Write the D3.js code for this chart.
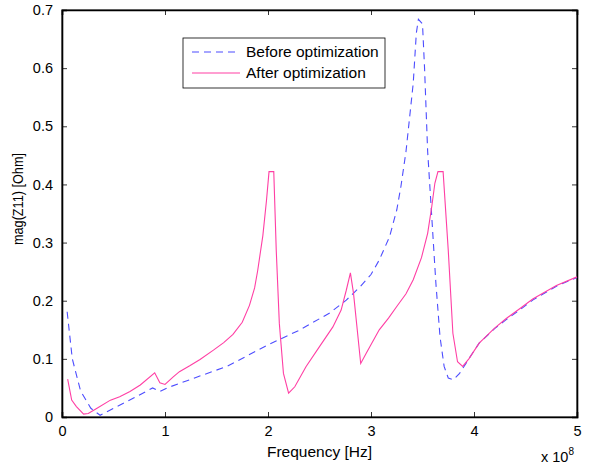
<!DOCTYPE html>
<html>
<head>
<meta charset="utf-8">
<script src="https://cdn.jsdelivr.net/npm/d3@7"></script>
<style>
  body { margin: 0; background: #fff; }
  text { font-family: "Liberation Sans", Arial, sans-serif; fill: #000; }
</style>
</head>
<body>
<script>
// frequency in units of 1e8 Hz, magnitude in Ohm
const beforeFreq = [0.05, 0.1, 0.18, 0.28, 0.37, 0.5, 0.7, 0.88, 0.95, 1.02, 1.3, 1.6, 2.0, 2.3, 2.6, 2.76,
  2.9, 3.0, 3.08, 3.18, 3.25, 3.29, 3.34, 3.41, 3.44, 3.46, 3.5, 3.52, 3.55, 3.59, 3.63, 3.67, 3.71, 3.75,
  3.8, 3.86, 3.95, 4.05, 4.2, 4.31, 4.45, 4.57, 4.8, 5.0];
const beforeMag = [0.181, 0.1, 0.045, 0.015, 0.003, 0.015, 0.033, 0.05, 0.044, 0.05, 0.068, 0.087, 0.124, 0.149, 0.179, 0.201,
  0.225, 0.245, 0.27, 0.31, 0.356, 0.396, 0.457, 0.574, 0.66, 0.684, 0.676, 0.6, 0.457, 0.344, 0.23, 0.138, 0.087, 0.067,
  0.064, 0.075, 0.1, 0.127, 0.152, 0.167, 0.185, 0.201, 0.225, 0.24];

const afterFreq = [0.055, 0.094, 0.14, 0.21, 0.255, 0.34, 0.47, 0.56, 0.66, 0.76, 0.9, 0.95, 1.0, 1.08, 1.14, 1.24,
  1.34, 1.47, 1.57, 1.66, 1.75, 1.82, 1.87, 1.9, 1.95, 1.985, 2.01, 2.056, 2.08, 2.11, 2.15, 2.2, 2.26, 2.37,
  2.5, 2.63, 2.71, 2.76, 2.8, 2.83, 2.9, 2.955, 3.08, 3.17, 3.25, 3.34, 3.41, 3.49, 3.55, 3.59, 3.62, 3.65,
  3.7, 3.75, 3.795, 3.84, 3.89, 3.95, 4.05, 4.2, 4.31, 4.45, 4.57, 4.8, 5.0];
const afterMag = [0.065, 0.029, 0.018, 0.005, 0.006, 0.015, 0.029, 0.035, 0.044, 0.055, 0.076, 0.059, 0.056, 0.069, 0.078, 0.088,
  0.099, 0.115, 0.128, 0.142, 0.163, 0.192, 0.222, 0.252, 0.312, 0.372, 0.422, 0.422, 0.287, 0.161, 0.075, 0.041, 0.052, 0.087,
  0.121, 0.155, 0.184, 0.218, 0.248, 0.213, 0.092, 0.11, 0.15, 0.17, 0.19, 0.212, 0.236, 0.274, 0.316, 0.362, 0.402, 0.422,
  0.422, 0.287, 0.144, 0.095, 0.087, 0.1, 0.127, 0.153, 0.169, 0.187, 0.203, 0.226, 0.241];

const xTicks = [0, 1, 2, 3, 4, 5];
const yTicks = [0, 0.1, 0.2, 0.3, 0.4, 0.5, 0.6, 0.7];
const seriesNames = ["Before optimization", "After optimization"];

const W = 589, H = 464;
const pLeft = 62, pTop = 10, pRight = 577, pBottom = 417;

const svg = d3.select("body").append("svg")
  .attr("width", W).attr("height", H);

const x = d3.scaleLinear().domain([0, 5]).range([pLeft, pRight]);
const y = d3.scaleLinear().domain([0, 0.7]).range([pBottom, pTop]);

// box
svg.append("rect")
  .attr("x", pLeft).attr("y", pTop)
  .attr("width", pRight - pLeft).attr("height", pBottom - pTop)
  .attr("fill", "none").attr("stroke", "#000").attr("stroke-width", 1);

// axes with inward ticks (MATLAB style)
const fmtY = d => d === 0 ? "0" : d3.format(".1f")(d);

const gx = svg.append("g").attr("transform", `translate(0,${pBottom})`)
  .call(d3.axisBottom(x).tickValues(xTicks).tickSize(-5).tickPadding(9).tickFormat(d3.format("d")));
const gxTop = svg.append("g").attr("transform", `translate(0,${pTop})`)
  .call(d3.axisTop(x).tickValues(xTicks).tickSize(-5).tickFormat(""));
const gy = svg.append("g").attr("transform", `translate(${pLeft},0)`)
  .call(d3.axisLeft(y).tickValues(yTicks).tickSize(-5).tickPadding(9).tickFormat(fmtY));
const gyRight = svg.append("g").attr("transform", `translate(${pRight},0)`)
  .call(d3.axisRight(y).tickValues(yTicks).tickSize(-5).tickFormat(""));

[gx, gxTop, gy, gyRight].forEach(g => {
  g.select(".domain").attr("stroke", "#000").attr("stroke-width", 1.6);
  g.selectAll(".tick line").attr("stroke", "#000").attr("stroke-width", 0.8);
  g.selectAll("text").style("font-size", "14.5px").attr("fill", "#000")
    .style("font-family", "'Liberation Sans', Arial, sans-serif");
});
gx.selectAll(".tick text").attr("dy", "0.71em");

// curves
const line = d3.line().x(d => x(d[0])).y(d => y(d[1]));

svg.append("path")
  .datum(beforeFreq.map((f, i) => [f, beforeMag[i]]))
  .attr("fill", "none").attr("stroke", "#4d4dff").attr("stroke-width", 1.1)
  .attr("stroke-dasharray", "7,5")
  .attr("d", line);

svg.append("path")
  .datum(afterFreq.map((f, i) => [f, afterMag[i]]))
  .attr("fill", "none").attr("stroke", "#ff3fa4").attr("stroke-width", 1.1)
  .attr("d", line);

// labels
svg.append("text")
  .attr("x", (pLeft + pRight) / 2).attr("y", 457)
  .attr("text-anchor", "middle").style("font-size", "15.5px")
  .text("Frequency [Hz]");

// reference font is narrower here, so squeeze it to the measured length
svg.append("text")
  .attr("transform", "translate(23,199) rotate(-90)")
  .attr("text-anchor", "middle").style("font-size", "15px")
  .attr("textLength", 92).attr("lengthAdjust", "spacingAndGlyphs")
  .text("mag(Z11) [Ohm]");

const expo = svg.append("text").attr("x", 541).attr("y", 462).style("font-size", "14.5px");
expo.append("tspan").text("x 10");
expo.append("tspan").attr("dy", -7).style("font-size", "10px").text("8");

// legend
const legend = svg.append("g");
legend.append("rect")
  .attr("x", 183).attr("y", 38).attr("width", 202).attr("height", 50)
  .attr("fill", "#fff").attr("stroke", "#000").attr("stroke-width", 0.8);
legend.append("line")
  .attr("x1", 192).attr("x2", 240).attr("y1", 52).attr("y2", 52)
  .attr("stroke", "#4d4dff").attr("stroke-width", 1.1).attr("stroke-dasharray", "7,5");
legend.append("line")
  .attr("x1", 192).attr("x2", 240).attr("y1", 73).attr("y2", 73)
  .attr("stroke", "#ff3fa4").attr("stroke-width", 1.1);
seriesNames.forEach((name, i) => {
  legend.append("text")
    .attr("x", 246).attr("y", 57 + i * 21)
    .style("font-size", "15.5px")
    .text(name);
});
</script>
</body>
</html>
